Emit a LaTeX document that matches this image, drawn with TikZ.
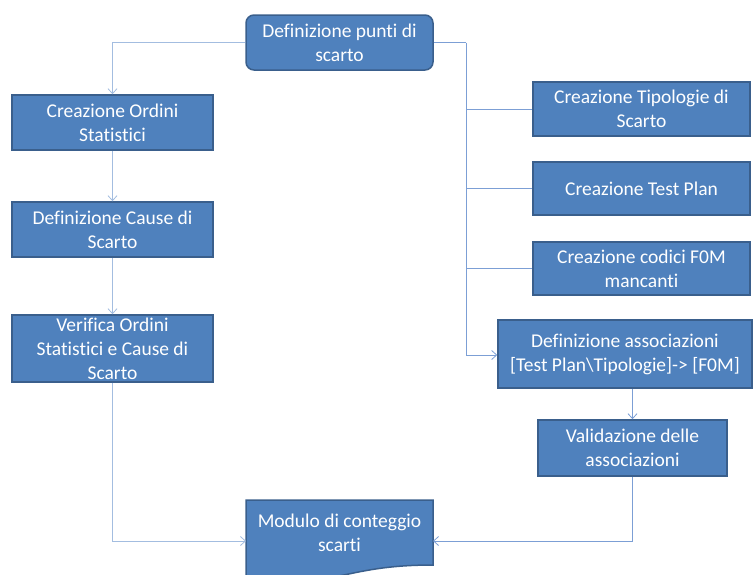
\documentclass[tikz,border=0pt]{standalone}
\usepackage{fontspec}
\setmainfont[Ligatures=NoCommon]{Carlito}
\usetikzlibrary{arrows.meta}
\definecolor{boxfill}{HTML}{4F81BD}
\definecolor{boxedge}{HTML}{3A5F8C}
\definecolor{linkA}{HTML}{A3BDE0}
\definecolor{linkB}{HTML}{7C9FD5}
\begin{document}
\begin{tikzpicture}[x=1pt,y=-1pt,
  stepbox/.style={draw=boxedge,line width=1.5pt,fill=boxfill,text=white,
    align=center,inner sep=0pt,font=\fontsize{19.5}{24}\selectfont},
  linkleft/.style={draw=linkA,line width=1pt},
  linkright/.style={draw=linkB,line width=0.8pt},
  tip/.style={-{Straight Barb[length=5pt,width=9pt,line width=0.8pt]}}]
\useasboundingbox (0,0) rectangle (755,574);
\begin{scope}
\clip (0,0) rectangle (755,574);

% process boxes
\node[stepbox,rounded corners=8pt,minimum width=187pt,minimum height=55pt] (top) at (339.5,42.5) {Definizione punti di\\scarto};
\node[stepbox,minimum width=201pt,minimum height=55pt] (co) at (112.5,122.5) {Creazione Ordini\\Statistici};
\node[stepbox,minimum width=201pt,minimum height=55pt] (dc) at (112.5,229.5) {Definizione Cause di\\Scarto};
\node[stepbox,minimum width=201pt,minimum height=67pt] (vo) at (112.5,348.5) {Verifica Ordini\\Statistici e Cause di\\Scarto};
\node[stepbox,minimum width=217pt,minimum height=54pt] (ct) at (641.5,109) {Creazione Tipologie di\\Scarto};
\node[stepbox,minimum width=217pt,minimum height=53pt] (tp) at (641.5,188.5) {Creazione Test Plan};
\node[stepbox,minimum width=217pt,minimum height=53pt] (fm) at (641.5,268.5) {Creazione codici F0M\\mancanti};
\node[stepbox,minimum width=254pt,minimum height=68pt] (da) at (625,354) {Definizione associazioni\\{[}Test Plan\textbackslash Tipologie{]}-> {[}F0M{]}};
\node[stepbox,minimum width=189pt,minimum height=56pt] (va) at (632.5,448) {Validazione delle\\associazioni};

% document shape with wavy lower edge
\draw[draw=boxedge,line width=1.5pt,fill=boxfill]
  (246,500) -- (433,500) -- (433,565)
  .. controls (339.5,565) and (339.5,590) .. (246,577) -- cycle;
\node[stepbox,draw=none,fill=none,minimum width=187pt] (mo) at (339.5,533) {Modulo di conteggio\\scarti};
\coordinate (moW) at (246,541);
\coordinate (moE) at (433,541);

% left branch
\draw[linkleft,tip] (top.west) -| (co.north);
\draw[linkleft,tip] (co.south) -- (dc.north);
\draw[linkleft,tip] (dc.south) -- (vo.north);
\draw[linkleft,tip] (vo.south) |- (moW);

% right branch
\coordinate (rj) at (466,42.5);
\coordinate (rb) at (466,355);
\draw[linkright] (top.east) -- (rj);
\draw[linkright,tip] (rj) -- (rb) -- (rb -| da.west);
\draw[linkright] (ct.west -| rj) -- (ct.west);
\draw[linkright] (tp.west -| rj) -- (tp.west);
\draw[linkright] (fm.west -| rj) -- (fm.west);
\draw[linkright,tip] (da.south -| va.north) -- (va.north);
\draw[linkright,tip] (va.south) |- (moE);
\end{scope}
\end{tikzpicture}
\end{document}
